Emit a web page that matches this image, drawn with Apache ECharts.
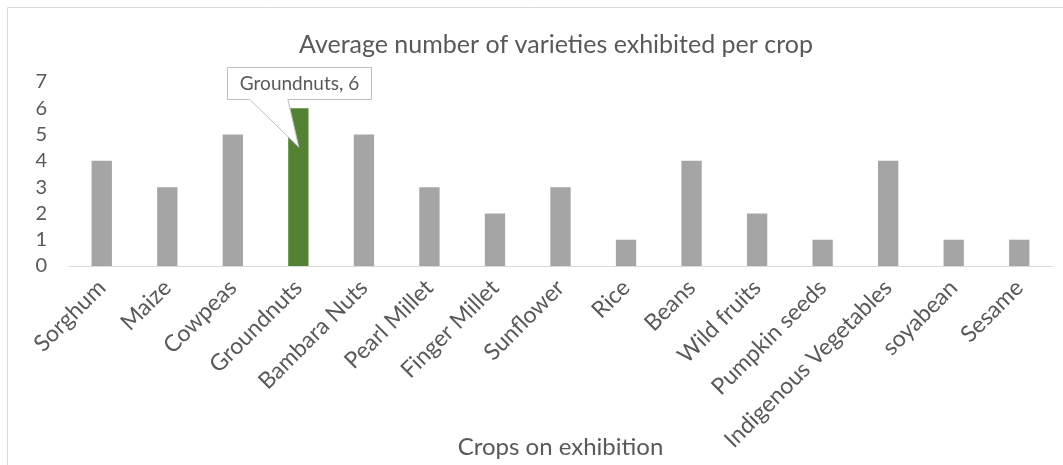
<!DOCTYPE html>
<html>
<head>
<meta charset="utf-8">
<script src="https://cdn.jsdelivr.net/npm/echarts@6/dist/echarts.min.js"></script>
<style>
  html, body { margin: 0; padding: 0; background: #fff; }
  #chart { width: 1063px; height: 465px; }
</style>
</head>
<body>
<div id="chart"></div>
<script>
// Crops shown at the exhibition and the average number of varieties for each
const crops = ['Sorghum', 'Maize', 'Cowpeas', 'Groundnuts', 'Bambara Nuts', 'Pearl Millet',
  'Finger Millet', 'Sunflower', 'Rice', 'Beans', 'Wild fruits', 'Pumpkin seeds',
  'Indigenous Vegetables', 'soyabean', 'Sesame'];
const varieties = [4, 3, 5, 6, 5, 3, 2, 3, 1, 4, 2, 1, 4, 1, 1];
const highlightCrop = 'Groundnuts';
const yTicks = [0, 1, 2, 3, 4, 5, 6, 7];

const FONT = '"Gill Sans MT", "Gill Sans", Lato, sans-serif';
const TEXT = '#595959';
const GREY = '#a5a5a5';
const GREEN = '#548235';

const chart = echarts.init(document.getElementById('chart'), null, { renderer: 'canvas' });

const barData = crops.map((c, i) => ({
  value: varieties[i],
  itemStyle: { color: c === highlightCrop ? GREEN : GREY }
}));

const frame = {
  type: 'rect',
  shape: { x: 7.5, y: 7.5, width: 1100, height: 500 },
  style: { fill: null, stroke: '#d9d9d9', lineWidth: 1 },
  silent: true
};

const option = {
  animation: false,
  backgroundColor: '#fff',
  textStyle: { fontFamily: FONT, color: TEXT },
  title: {
    text: 'Average number of varieties exhibited per crop',
    left: 551, top: 27,
    textAlign: 'center',
    textStyle: { fontFamily: FONT, fontSize: 25, fontWeight: 'normal', color: TEXT }
  },
  grid: {
    left: 69, right: 11, top: 82, bottom: 199,
    containLabel: false,
    outerBoundsMode: 'none'
  },
  xAxis: {
    type: 'category',
    data: crops,
    name: 'Crops on exhibition',
    nameLocation: 'middle',
    nameGap: 169,
    nameMoveOverlap: false,
    nameTextStyle: { fontFamily: FONT, fontSize: 24, color: TEXT },
    axisLine: { lineStyle: { color: '#d9d9d9', width: 1 } },
    axisTick: { show: false },
    axisLabel: { rotate: 45, margin: 18, fontFamily: FONT, fontSize: 23, color: TEXT, interval: 0 }
  },
  yAxis: {
    type: 'value',
    min: yTicks[0], max: yTicks[yTicks.length - 1], interval: 1,
    axisLine: { show: false },
    axisTick: { show: false },
    splitLine: { show: false },
    axisLabel: { margin: 22, fontFamily: FONT, fontSize: 20, color: TEXT }
  },
  series: [{
    type: 'bar',
    data: barData,
    barWidth: '31%'
  }],
  graphic: [frame]
};

chart.setOption(option);

// Callout for the highlighted crop, anchored to the top of its bar
const hi = crops.indexOf(highlightCrop);
const [cx, cy] = chart.convertToPixel({ seriesIndex: 0 }, [hi, varieties[hi]]);
const L = Math.round(cx - 71.5) + 0.5, R = Math.round(cx + 72.5) + 0.5;
const T = Math.round(cy - 41) + 0.5, B = Math.round(cy - 9) + 0.5;
chart.setOption({
  graphic: [frame, {
    type: 'polygon',
    z: 10,
    shape: {
      points: [[L, T], [R, T], [R, B], [cx - 10.5, B], [cx + 0.5, cy + 39],
               [cx - 48.5, B], [L, B]]
    },
    style: { fill: '#ffffff', stroke: '#bfbfbf', lineWidth: 1 }
  }, {
    type: 'text',
    z: 11,
    x: (L + R) / 2, y: (T + B) / 2,
    style: {
      text: crops[hi] + ', ' + varieties[hi],
      fill: TEXT, font: '19px ' + FONT,
      align: 'center', verticalAlign: 'middle'
    }
  }]
});
</script>
</body>
</html>
